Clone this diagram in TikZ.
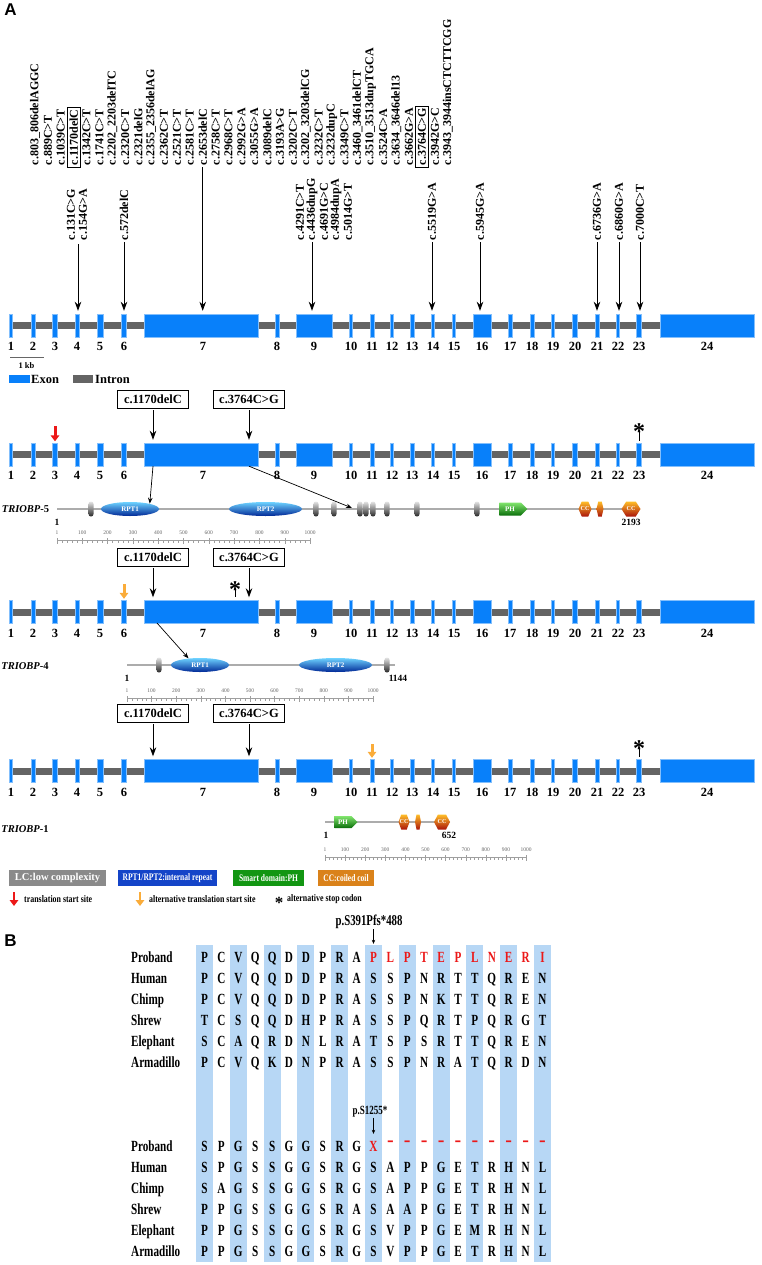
\documentclass[tikz,border=0pt]{standalone}
\usepackage{fontspec}
\setmainfont{Liberation Serif}
\newfontfamily\panelfont{Liberation Sans}
\newfontfamily\alnfont[FakeStretch=0.72]{Liberation Serif}
\newfontfamily\legfont[FakeStretch=0.75]{Liberation Serif}
\newfontfamily\notefont[FakeStretch=0.79]{Liberation Serif}
\usetikzlibrary{arrows.meta,positioning,shapes.geometric,shapes.symbols}

\definecolor{exonblue}{RGB}{8,128,250}
\definecolor{introngray}{RGB}{100,100,100}
\definecolor{shadeblue}{RGB}{183,215,245}
\definecolor{lcgray}{RGB}{138,138,138}
\definecolor{rptblue}{RGB}{20,68,200}
\definecolor{phgreen}{RGB}{18,150,18}
\definecolor{ccorange}{RGB}{218,130,26}
\definecolor{altorange}{RGB}{250,172,58}
\definecolor{mutred}{RGB}{236,24,24}
\definecolor{rpttop}{RGB}{110,210,255}
\definecolor{rptbot}{RGB}{0,40,150}
\definecolor{phtop}{RGB}{130,230,110}
\definecolor{phbot}{RGB}{10,110,10}
\definecolor{cctop}{RGB}{255,190,40}
\definecolor{ccbot}{RGB}{170,20,10}

\tikzset{
  exon/.style={rectangle, fill=exonblue, draw=exonblue!50!white, line width=0.4pt, minimum height=23pt, inner sep=0pt},
  exonnum/.style={inner sep=0pt, font=\fontsize{12.5}{13}\selectfont\bfseries},
  mutlab/.style={rotate=90, anchor=west, inner sep=0.5pt, font=\fontsize{12}{12}\selectfont\bfseries},
  mutbox/.style={draw, line width=0.6pt, minimum width=71pt, minimum height=18pt, inner sep=0pt, font=\fontsize{12.5}{13}\selectfont\bfseries},
  mutarrow/.style={line width=0.8pt, shorten <=1.5pt, shorten >=3pt, -{Stealth[length=9pt,width=6.5pt]}},
  maparrow/.style={line width=0.7pt, -{Stealth[length=6pt,width=4.5pt]}},
  startarrow/.style={line width=3pt, shorten >=1.5pt, -{Triangle[length=6pt,width=8.5pt]}},
  stopmark/.style={inner sep=0pt, font=\fontsize{24}{24}\selectfont\bfseries},
  stoptick/.style={line width=0.8pt, shorten >=2pt},
  protline/.style={draw=gray!65, line width=1.2pt},
  protname/.style={inner sep=0pt, font=\fontsize{10.5}{11}\selectfont\bfseries},
  endnum/.style={inner sep=0pt, font=\fontsize{9.5}{10}\selectfont\bfseries},
  lcbar/.style={rectangle, rounded corners=2.4pt, minimum width=5pt, minimum height=15pt, inner sep=0pt, top color=gray!20, bottom color=black!85},
  rpt/.style={ellipse, minimum height=14pt, inner sep=0pt, top color=rpttop, bottom color=rptbot, text=white, font=\fontsize{7}{7}\selectfont\bfseries},
  phdom/.style={signal, signal to=east, minimum height=13pt, inner sep=0pt, top color=phtop, bottom color=phbot, text=white, font=\fontsize{7}{7}\selectfont\bfseries},
  domlab/.style={inner sep=0pt, text=white, font=\fontsize{6}{6}\selectfont\bfseries},
  rulerline/.style={draw=gray!75, line width=0.4pt},
  rulernum/.style={inner sep=0pt, text=gray!80!black, font=\fontsize{5.5}{6}\selectfont},
  legbox/.style={minimum height=16pt, inner sep=0pt, text=white, font=\legfont\fontsize{10}{10}\selectfont\bfseries},
  legtext/.style={anchor=west, inner sep=0pt, font=\notefont\fontsize{10}{10}\selectfont\bfseries},
  panel/.style={inner sep=0pt, font=\panelfont\fontsize{17}{17}\selectfont\bfseries},
  species/.style={anchor=west, inner sep=0pt, text height=12pt, text depth=2pt, font=\alnfont\fontsize{15.5}{16}\selectfont\bfseries},
  aa/.style={inner sep=0pt, text height=12pt, text depth=2pt, font=\alnfont\fontsize{15.5}{16}\selectfont\bfseries},
  gapmark/.style={inner sep=0pt, text=mutred, font=\fontsize{20}{20}\selectfont\bfseries},
  protmut/.style={inner sep=0pt, font=\alnfont\fontsize{15}{15}\selectfont\bfseries},
  pointer/.style={line width=0.6pt, -{Stealth[length=4pt,width=3.5pt]}},
}

% one gene model: #1 = y of the intron bar, #2 = name prefix
\newcommand{\genemodel}[2]{%
  \fill[introngray] (10,#1-3.5) rectangle (660,#1+3.5);
  \foreach \n/\x/\w/\lx in {1/11/3/11, 2/33/4/33, 3/55/5/55, 4/77/4/77, 5/100/6/100, 6/124/5/124,
      7/201/114/203, 8/277/4/277, 9/314/36/314, 10/351/3/351, 11/372/4/372, 12/392/3/392,
      13/412/4/412, 14/433/3/433, 15/454/3/454, 16/482/18/482, 17/510/4/510, 18/532/4/532,
      19/553/3/553, 20/575/5/575, 21/597/4/597, 22/618/3/618, 23/639/5/639, 24/707/94/707}{%
    \node[exon, minimum width=\w] (#2e\n) at (\x,#1) {};
    \node[exonnum] (#2n\n) at (\lx,#1+21) {\n};
  }%
}
% coiled coil: name, x, y, half width, text
\newcommand{\cchex}[5]{%
  \shade[top color=cctop, bottom color=ccbot] (#2-#4,#3) -- (#2-#4*0.5,#3-7.5) -- (#2+#4*0.5,#3-7.5)
    -- (#2+#4,#3) -- (#2+#4*0.5,#3+7.5) -- (#2-#4*0.5,#3+7.5) -- cycle;
  \node[domlab] (#1) at (#2,#3) {#5};%
}
% amino acid ruler: name, x of 0, x of 1000, y
\newcommand{\aaruler}[4]{%
  \draw[rulerline] (#2,#4) coordinate (#1a) -- (#3,#4) coordinate (#1b);
  \foreach \k in {0,...,50}{\draw[rulerline] ({#2+(#3-#2)*\k/50},#4) -- ++(0,2.5);}
  \foreach \k/\t in {0/1,1/100,2/200,3/300,4/400,5/500,6/600,7/700,8/800,9/900,10/1000}{%
    \draw[rulerline] ({#2+(#3-#2)*\k/10},#4-2) -- ++(0,6);
    \node[rulernum] (#1t\k) at ({#2+(#3-#2)*\k/10},#4-7) {\t};
  }%
}

\begin{document}
\begin{tikzpicture}[x=1pt, y=-1pt]
\useasboundingbox[fill=white] (0,0) rectangle (761,1265);

\node[panel] (pA) at (10.5,10) {A};

% reported variants
\foreach \lab [count=\i from 0] in {c.803\_806delAGGC, c.889C>T, c.1039C>T, c.1170delC, c.1342C>T,
    c.1741C>T, c.2202\_2203delTC, c.2320C>T, c.2321delG, c.2355\_2356delAG, c.2362C>T, c.2521C>T,
    c.2581C>T, c.2653delC, c.2758C>T, c.2968C>T, c.2992G>A, c.3055G>A, c.3089delC, c.3193A>G,
    c.3202C>T, c.3202\_3203delCG, c.3232C>T, c.3232dupC, c.3349C>T, c.3460\_3461delCT,
    c.3510\_3513dupTGCA, c.3524C>A, c.3634\_3646del13, c.3662G>A, c.3764C>G, c.3942G>C,
    c.3943\_3944insCTCTTCGG}{
  \node[mutlab] (mut\i) at (35+12.9*\i,166) {\lab};
}
\draw[line width=0.6pt] ([shift={(1.5,1.5)}]mut3.south west) rectangle ([shift={(-1.5,-1.5)}]mut3.north east);
\draw[line width=0.6pt] ([shift={(1.5,1.5)}]mut30.south west) rectangle ([shift={(-1.5,-1.5)}]mut30.north east);

\foreach \lab/\x/\nm in {c.131C>G/71/m131, c.154G>A/83/m154, c.572delC/124/m572, c.4291C>T/300/m4291,
    c.4436dupG/312/m4436, c.4691G>C/324/m4691, c.4984dupA/336/m4984, c.5014G>T/348/m5014,
    c.5519G>A/432/m5519, c.5945G>A/480/m5945, c.6736G>A/597/m6736, c.6860G>A/619/m6860,
    c.7000C>T/640/m7000}{
  \node[mutlab] (\nm) at (\x,241) {\lab};
}

% gene structure
\genemodel{325.5}{g1}
\coordinate (a4) at (78,243);
\draw[mutarrow] (a4) -- (a4 |- g1e4.north);
\draw[mutarrow] (m572.west) -- (m572.west |- g1e6.north);
\draw[mutarrow] (mut13.west) -- (mut13.west |- g1e7.north);
\draw[mutarrow] (m4436.west) -- (m4436.west |- g1e9.north);
\draw[mutarrow] (m5519.west) -- (m5519.west |- g1e14.north);
\draw[mutarrow] (m5945.west) -- (m5945.west |- g1e16.north);
\draw[mutarrow] (m6736.west) -- (m6736.west |- g1e21.north);
\draw[mutarrow] (m6860.west) -- (m6860.west |- g1e22.north);
\draw[mutarrow] (m7000.west) -- (m7000.west |- g1e23.north);

\draw[gray!80!black, line width=0.8pt] (10,357) coordinate (kbl) -- (44,357) coordinate (kbr);
\node[endnum, font=\fontsize{8.5}{9}\selectfont\bfseries] (kb) at (26.5,366) {1 kb};
\fill[exonblue] (9,375) rectangle (30,383);
\node[exonnum, anchor=west] (lgexon) at (31,379) {Exon};
\fill[introngray] (73,375) rectangle (93,383);
\node[exonnum, anchor=west] (lgintron) at (95,379) {Intron};

% TRIOBP-5
\genemodel{454.5}{g2}
\node[mutbox] (b2a) at (153,399.5) {c.1170delC};
\node[mutbox] (b2b) at (249,399.5) {c.3764C>G};
\draw[mutarrow] (b2a.south) -- (b2a.south |- g2e7.north);
\draw[mutarrow] (b2b.south) -- (b2b.south |- g2e7.north);
\coordinate (st2) at (55,426);
\draw[startarrow, mutred] (st2) -- (st2 |- g2e3.north);
\node[stopmark] (s2) at (639,432) {*};
\draw[stoptick] ([yshift=9.7pt]s2.south) -- (s2.south |- g2e23.north);

\coordinate (p5s) at (57,509);
\coordinate (p5e) at (640,509);
\draw[protline] (p5s) -- (p5e);
\node[protname] (p5name) at (25.5,509) {{\itshape TRIOBP}-5};
\foreach \x [count=\i] in {91,316,334,360,366,373,387,417,477}{
  \node[lcbar] (p5lc\i) at (\x,509) {};
}
\node[rpt, minimum width=58pt] (p5rpt1) at (130,509) {RPT1};
\node[rpt, minimum width=73pt] (p5rpt2) at (265.5,509) {RPT2};
\node[phdom, minimum width=28pt] (p5ph) at (510,509) {PH};
\cchex{p5cc1}{585}{509}{6.5}{CC}
\cchex{p5cc2}{600}{509}{3.5}{\scriptsize}
\cchex{p5cc3}{631}{509}{9.5}{CC}
\node[endnum] (p5one) at (57,522) {1};
\node[endnum] (p5len) at (631,522) {2193};
\aaruler{r5}{57}{310}{540}
\coordinate (p5tgt) at (352,508);
\draw[maparrow] (b2a.south |- g2e7.south) -- (p5rpt1.15);
\draw[maparrow] (b2b.south |- g2e7.south) -- (p5tgt);

% TRIOBP-4
\genemodel{612}{g3}
\node[mutbox] (b3a) at (153,557.5) {c.1170delC};
\node[mutbox] (b3b) at (249,557.5) {c.3764C>G};
\draw[mutarrow] (b3a.south) -- (b3a.south |- g3e7.north);
\draw[mutarrow] (b3b.south) -- (b3b.south |- g3e7.north);
\coordinate (st3) at (124,584);
\draw[startarrow, altorange] (st3) -- (st3 |- g3e6.north);
\node[stopmark] (s3) at (235,590) {*};
\draw[stoptick, shorten >=3pt] ([yshift=9.7pt]s3.south) -- (s3.south |- g3e7.north);

\coordinate (p4s) at (127,665);
\coordinate (p4e) at (395,665);
\draw[protline] (p4s) -- (p4e);
\node[protname] (p4name) at (25,666) {{\itshape TRIOBP}-4};
\node[lcbar] (p4lc1) at (159,665) {};
\node[lcbar] (p4lc2) at (387,665) {};
\node[rpt, minimum width=58pt] (p4rpt1) at (200,665) {RPT1};
\node[rpt, minimum width=73pt] (p4rpt2) at (335.5,665) {RPT2};
\node[endnum] (p4one) at (127,678) {1};
\node[endnum] (p4len) at (398,678) {1144};
\aaruler{r4}{127}{373}{698}
\coordinate (g3cut) at (157,623);
\draw[maparrow] (g3cut) -- (p4rpt1.150);

% TRIOBP-1
\genemodel{771}{g4}
\node[mutbox] (b4a) at (153,713.5) {c.1170delC};
\node[mutbox] (b4b) at (249,713.5) {c.3764C>G};
\draw[mutarrow] (b4a.south) -- (b4a.south |- g4e7.north);
\draw[mutarrow] (b4b.south) -- (b4b.south |- g4e7.north);
\coordinate (st4) at (372,744);
\draw[startarrow, altorange] (st4) -- (st4 |- g4e11.north);
\node[stopmark] (s4) at (639,749) {*};
\draw[stoptick] ([yshift=9.7pt]s4.south) -- (s4.south |- g4e23.north);

\coordinate (p1s) at (325,822);
\coordinate (p1e) at (450,822);
\draw[protline] (p1s) -- (p1e);
\node[protname] (p1name) at (25,829) {{\itshape TRIOBP}-1};
\node[phdom, minimum width=23pt, minimum height=12pt] (p1ph) at (343,822) {PH};
\cchex{p1cc1}{404}{822}{5.5}{CC}
\cchex{p1cc2}{418}{822}{3}{\scriptsize}
\cchex{p1cc3}{442}{822}{8}{CC}
\node[endnum] (p1one) at (326,835) {1};
\node[endnum] (p1len) at (449,835) {652};
\aaruler{r1}{325}{526}{857}

% legend
\node[legbox, fill=lcgray, minimum width=97pt, font=\fontsize{10.5}{10.5}\selectfont\bfseries] (lgLC) at (57.5,878) {LC:low complexity};
\node[legbox, fill=rptblue, minimum width=99pt] (lgRPT) at (167.5,878) {RPT1/RPT2:internal repeat};
\node[legbox, fill=phgreen, minimum width=71pt] (lgPH) at (268.5,878) {Smart domain:PH};
\node[legbox, fill=ccorange, minimum width=56pt] (lgCC) at (346,878) {CC:coiled coil};

\coordinate (lgst) at (14,892);
\coordinate (lgste) at (14,906);
\draw[startarrow, mutred, line width=2.5pt, shorten >=0pt] (lgst) -- (lgste);
\node[legtext] (lgsttext) at (24,899) {translation start site};
\coordinate (lgalt) at (140,892);
\coordinate (lgalte) at (140,906);
\draw[startarrow, altorange, line width=2.5pt, shorten >=0pt] (lgalt) -- (lgalte);
\node[legtext] (lgalttext) at (149,899) {alternative translation start site};
\node[stopmark, font=\fontsize{17}{17}\selectfont\bfseries] (lgstop) at (279,903) {*};
\node[legtext] (lgstoptext) at (287,899) {alternative stop codon};

% B: conservation
\node[panel] (pB) at (10.5,940.5) {B};
\foreach \c in {0,2,...,20}{
  \fill[shadeblue] (196+16.9*\c,945) rectangle (213+16.9*\c,1262);
}
\foreach \sp [count=\r from 0] in {Proband,Human,Chimp,Shrew,Elephant,Armadillo}{
  \node[species] (sa\r) at (131,957+21*\r) {\sp};
  \node[species] (sb\r) at (131,1146+21*\r) {\sp};
}

\foreach \a [count=\c from 0] in {P,C,V,Q,Q,D,D,P,R,A}{
  \node[aa] (u0-\c) at (204.5+16.9*\c,957) {\a};
}
\foreach \a [count=\c from 10] in {P,L,P,T,E,P,L,N,E,R,I}{
  \node[aa, text=mutred] (u0-\c) at (204.5+16.9*\c,957) {\a};
}
\foreach \r/\seq in {1/{P,C,V,Q,Q,D,D,P,R,A,S,S,P,N,R,T,T,Q,R,E,N},
                     2/{P,C,V,Q,Q,D,D,P,R,A,S,S,P,N,K,T,T,Q,R,E,N},
                     3/{T,C,S,Q,Q,D,H,P,R,A,S,S,P,Q,R,T,P,Q,R,G,T},
                     4/{S,C,A,Q,R,D,N,L,R,A,T,S,P,S,R,T,T,Q,R,E,N},
                     5/{P,C,V,Q,K,D,N,P,R,A,S,S,P,N,R,A,T,Q,R,D,N}}{
  \foreach \a [count=\c from 0] in \seq {
    \node[aa] (u\r-\c) at (204.5+16.9*\c,957+21*\r) {\a};
  }
}
\node[protmut] (mutA) at (369,922) {p.S391Pfs*488};
\draw[pointer, shorten >=6pt] (mutA.south -| u0-10) -- (u0-10.north);

\foreach \a [count=\c from 0] in {S,P,G,S,S,G,G,S,R,G}{
  \node[aa] (v0-\c) at (204.5+16.9*\c,1146) {\a};
}
\node[aa, text=mutred] (v0-10) at (373.5,1146) {X};
\foreach \c in {11,...,20}{
  \node[gapmark] (v0-\c) at (204.5+16.9*\c,1144) {-};
}
\foreach \r/\seq in {1/{S,P,G,S,S,G,G,S,R,G,S,A,P,P,G,E,T,R,H,N,L},
                     2/{S,A,G,S,S,G,G,S,R,G,S,A,P,P,G,E,T,R,H,N,L},
                     3/{P,P,G,S,S,G,G,S,R,A,S,A,A,P,G,E,T,R,H,N,L},
                     4/{P,P,G,S,S,G,G,S,R,G,S,V,P,P,G,E,M,R,H,N,L},
                     5/{P,P,G,S,S,G,G,S,R,G,S,V,P,P,G,E,T,R,H,N,L}}{
  \foreach \a [count=\c from 0] in \seq {
    \node[aa] (v\r-\c) at (204.5+16.9*\c,1146+21*\r) {\a};
  }
}
\node[protmut, font=\alnfont\fontsize{12.5}{13}\selectfont\bfseries] (mutB) at (370,1112) {p.S1255*};
\draw[pointer, shorten >=5pt] (mutB.south -| v0-10) -- (v0-10.north);
\end{tikzpicture}
\end{document}
